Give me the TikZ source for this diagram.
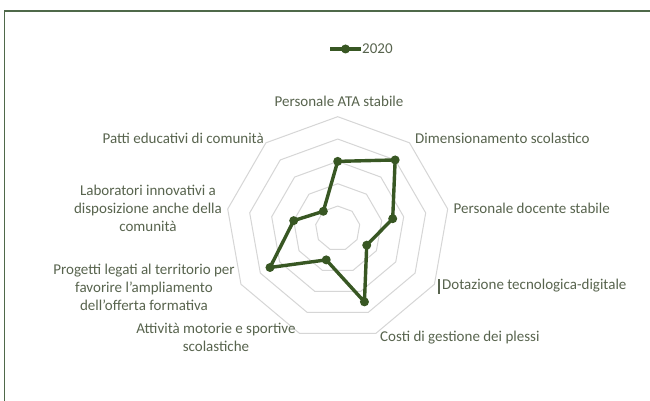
\documentclass[tikz,border=0pt]{standalone}
\usepackage{fontspec}
\setmainfont{Carlito}
\definecolor{txt}{RGB}{88,100,78}
\definecolor{gridc}{RGB}{214,214,214}
\definecolor{dg}{RGB}{56,87,35}
\definecolor{framec}{RGB}{79,105,74}
\begin{document}
\begin{tikzpicture}[x=1pt,y=1pt,
  lab/.style={text=txt, font=\fontsize{15}{18}\selectfont, inner sep=0pt},
  gridline/.style={draw=gridc, line width=1pt, line join=round},
  series/.style={draw=dg, line width=3.4pt, line join=round},
  dot/.style={circle, fill=dg, inner sep=0pt, minimum size=9pt}]
\useasboundingbox (0,0) rectangle (650,401);
\fill[white] (0,0) rectangle (650,401);
\draw[framec, line width=1.3pt] (4.5,0) -- (4.5,390) -- (650,390);
\coordinate (O) at (337.7,172.6);
\begin{scope}[shift={(O)}]
  \foreach \k in {1,...,5}{
    \draw[gridline] (90:{\k*22.34}) \foreach \a in {50,10,-30,-70,-110,-150,-190,-230}{ -- (\a:{\k*22.34}) } -- cycle;
  }
  \coordinate (p1) at (90:{3*22.34});
  \coordinate (p2) at (50:{4*22.34});
  \coordinate (p3) at (10:{2.5*22.34});
  \coordinate (p4) at (-30:{1.5*22.34});
  \coordinate (p5) at (-70:{3.5*22.34});
  \coordinate (p6) at (-110:{1.5*22.34});
  \coordinate (p7) at (-150:{3.5*22.34});
  \coordinate (p8) at (170:{2*22.34});
  \coordinate (p9) at (130:{1*22.34});
\end{scope}
\draw[series] (p1) -- (p2) -- (p3) -- (p4) -- (p5) -- (p6) -- (p7) -- (p8) -- (p9) -- cycle;
\foreach \i in {1,...,9}{ \node[dot] (m\i) at (p\i) {}; }
% legend
\coordinate (la) at (330,352);
\coordinate (lb) at (361,352);
\draw[dg, line width=3.4pt] (la) -- (lb);
\node[dot] (lm) at (345.5,352) {};
\node[lab, anchor=west] (leg) at (362,352) {2020};
% labels
\node[lab] (t1) at (339,300) {Personale ATA stabile};
\node[lab, anchor=west] (t2) at (415,263) {Dimensionamento scolastico};
\node[lab, anchor=west] (t3) at (453.5,193) {Personale docente stabile};
\node[lab, anchor=west] (t4) at (442,115) {Dotazione tecnologica-digitale};
\draw[txt, line width=1.2pt] (439,107) -- (439,122);
\node[lab, anchor=west] (t5) at (380,63) {Costi di gestione dei plessi};
\node[lab, align=center] (t6) at (216,63.5) {Attività motorie e sportive\\scolastiche};
\node[lab, align=center] (t7) at (144,114) {Progetti legati al territorio per\\favorire l'ampliamento\\dell'offerta formativa};
\node[lab, align=center] (t8) at (148,193) {Laboratori innovativi a\\disposizione anche della\\comunità};
\node[lab, anchor=east] (t9) at (264,263) {Patti educativi di comunità};
\end{tikzpicture}
\end{document}
